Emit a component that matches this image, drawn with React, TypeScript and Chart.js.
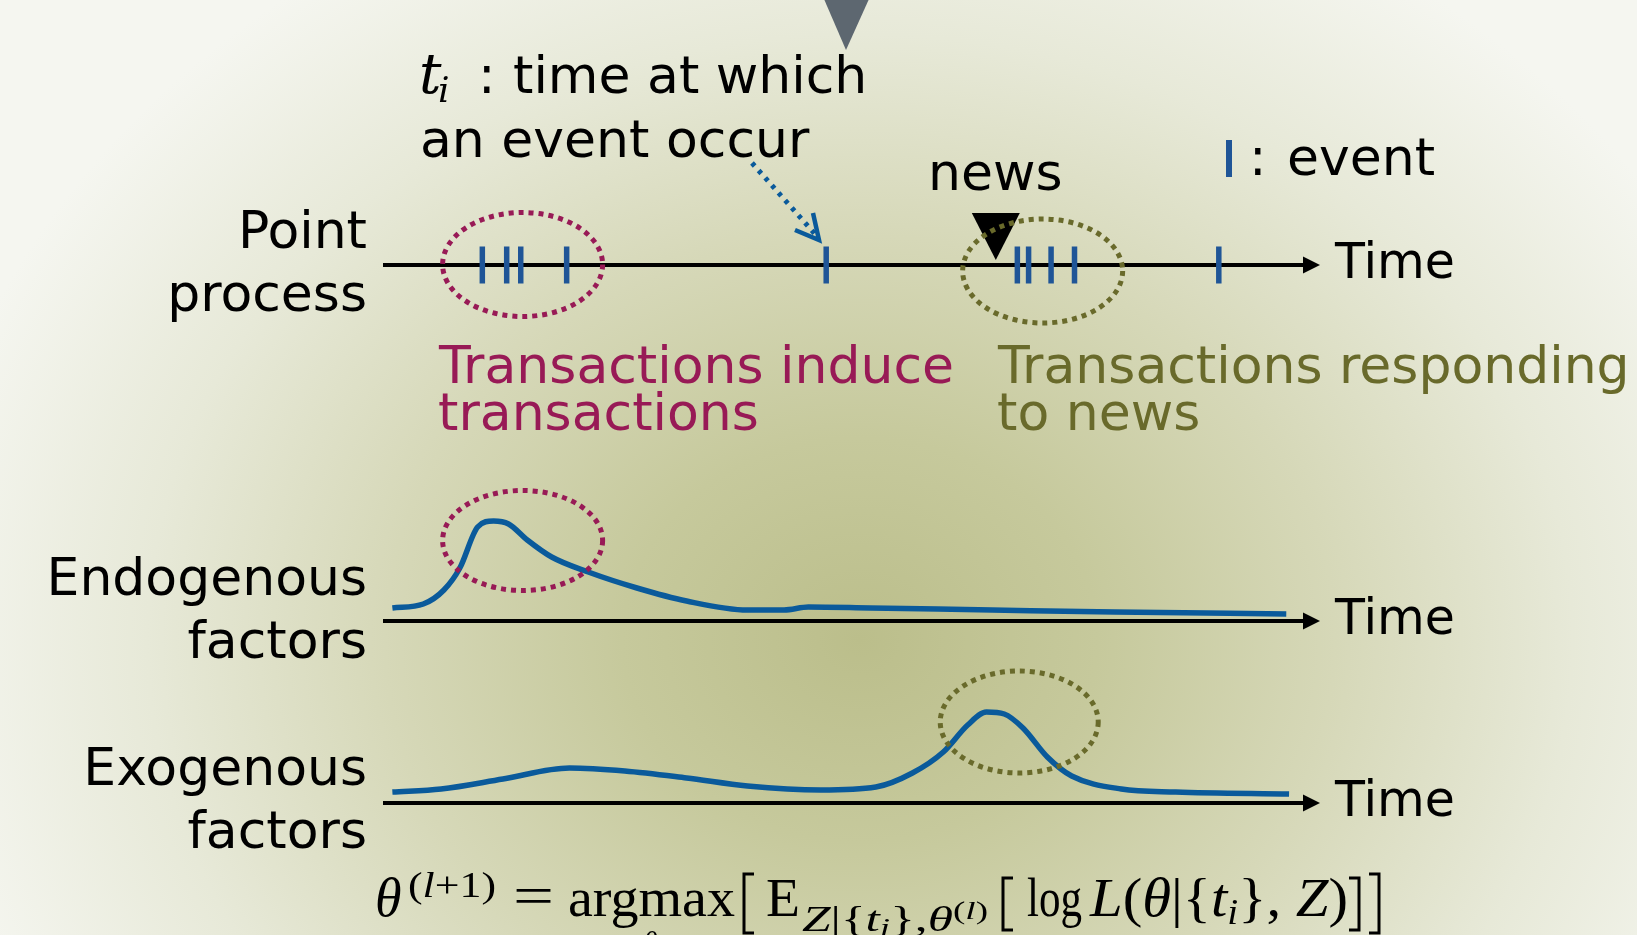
import React, { useEffect, useRef } from 'react';
import { Chart, registerables } from 'chart.js';

Chart.register(...registerables);

const CANVAS_W = 1637;
const CANVAS_H = 935;

// Time in axis units: 0 = left end of each time axis, 100 = arrow tip
const eventTimes = [10.6, 13.2, 14.7, 19.6, 47.3, 67.7, 68.9, 71.3, 73.8, 89.2];
const newsTime = 65.4;

const endoTimes = [1.0, 4.3, 6.5, 8.2, 10.1, 11.8, 13.4, 15.4, 18.0, 21.9, 27.1, 32.4, 38.9, 42.8, 45.4, 52.0, 65.0, 78.1, 96.4];
const endoValues = [1.3, 1.7, 3.1, 5.3, 9.4, 10.0, 9.7, 8.1, 6.4, 4.9, 3.3, 2.0, 1.1, 1.1, 1.4, 1.3, 1.1, 0.9, 0.7];

const exoTimes = [1.0, 6.2, 12.8, 19.9, 25.8, 32.4, 38.9, 46.7, 52.6, 56.5, 59.8, 62.4, 64.4, 66.3, 68.3, 70.9, 73.5, 78.8, 84.6, 96.7];
const exoValues = [1.1, 1.4, 2.4, 3.5, 3.2, 2.5, 1.7, 1.3, 1.6, 3.0, 5.1, 7.8, 9.1, 8.9, 7.5, 4.6, 2.7, 1.4, 1.1, 0.9];

const rowLabels = [['Point', 'process'], ['Endogenous', 'factors'], ['Exogenous', 'factors']];
const axisTitle = 'Time';
const endoNote = ['Transactions induce', 'transactions'];
const exoNote = ['Transactions responding', 'to news'];
const eventNote = ['time at which', 'an event occur'];
const newsLabel = 'news';
const legendLabel = 'event';

// layout (pixels)
const X_LEFT_PX = 383;
const X_TIP_PX = 1320;
const PX_PER_UNIT = (X_TIP_PX - X_LEFT_PX) / 100;
const ROW_AXIS_PX = [265, 621, 803];
const Y_PX_PER_UNIT = 10;

const BLUE = '#0a5a9b';
const TICK_BLUE = '#1f5597';
const MAROON = '#981a56';
const OLIVE = '#696a2b';
const SANS = '"DejaVu Sans", Verdana, sans-serif';
const SERIF = '"Liberation Serif", "Times New Roman", serif';

const yScale = (axisPx: number) => ({
  type: 'linear' as const,
  display: false,
  min: (axisPx - CANVAS_H) / Y_PX_PER_UNIT,
  max: axisPx / Y_PX_PER_UNIT,
});

type Part = { t: string; f: string; dy?: number };

function rich(ctx: CanvasRenderingContext2D, parts: Part[], x: number, y: number, targetW?: number) {
  let total = 0;
  const widths = parts.map((p) => {
    ctx.font = p.f;
    const w = ctx.measureText(p.t).width;
    total += w;
    return w;
  });
  const s = targetW ? targetW / total : 1;
  ctx.save();
  ctx.textAlign = 'left';
  ctx.textBaseline = 'alphabetic';
  ctx.translate(x, y);
  ctx.scale(s, 1);
  let cx = 0;
  parts.forEach((p, i) => {
    ctx.font = p.f;
    ctx.fillText(p.t, cx, p.dy || 0);
    cx += widths[i];
  });
  ctx.restore();
}

function txt(ctx: CanvasRenderingContext2D, s: string, x: number, y: number, font: string, color: string, align: CanvasTextAlign = 'left') {
  ctx.font = font;
  ctx.fillStyle = color;
  ctx.textAlign = align;
  ctx.textBaseline = 'alphabetic';
  ctx.fillText(s, x, y);
}

function bracket(ctx: CanvasRenderingContext2D, x: number, top: number, bottom: number, right: boolean) {
  const w = right ? -10 : 10;
  ctx.beginPath();
  ctx.moveTo(x + w, top);
  ctx.lineTo(x, top);
  ctx.lineTo(x, bottom);
  ctx.lineTo(x + w, bottom);
  ctx.stroke();
}

function dottedEllipse(ctx: CanvasRenderingContext2D, cx: number, cy: number, rx: number, ry: number, color: string) {
  ctx.save();
  ctx.strokeStyle = color;
  ctx.lineWidth = 5;
  ctx.setLineDash([5, 5]);
  ctx.beginPath();
  ctx.ellipse(cx, cy, rx, ry, 0, 0, Math.PI * 2);
  ctx.stroke();
  ctx.restore();
}

const diagramPlugin = {
  id: 'diagram',
  beforeDraw(chart: any) {
    const ctx: CanvasRenderingContext2D = chart.ctx;
    ctx.save();
    const cx = 860, cy = 640, ky = 0.85, R = 950;
    ctx.translate(cx, cy);
    ctx.scale(1, ky);
    const g = ctx.createRadialGradient(0, 0, 0, 0, 0, R);
    g.addColorStop(0, '#bbbe8b');
    g.addColorStop(0.25, '#c6c99c');
    g.addColorStop(0.5, '#d6d8b8');
    g.addColorStop(0.75, '#e7e9d8');
    g.addColorStop(1, '#f5f6f0');
    ctx.fillStyle = g;
    ctx.fillRect(-cx, -cy / ky, CANVAS_W, CANVAS_H / ky);
    ctx.restore();
  },
  beforeDatasetsDraw(chart: any) {
    const ctx: CanvasRenderingContext2D = chart.ctx;
    const xs = chart.scales.x;
    const x0 = xs.getPixelForValue(0);
    const xt = xs.getPixelForValue(100);
    ['yPP', 'yEndo', 'yExo'].forEach((id) => {
      const y = chart.scales[id].getPixelForValue(0);
      ctx.save();
      ctx.strokeStyle = '#000';
      ctx.fillStyle = '#000';
      ctx.lineWidth = 4;
      ctx.beginPath();
      ctx.moveTo(x0, y);
      ctx.lineTo(xt - 14, y);
      ctx.stroke();
      ctx.beginPath();
      ctx.moveTo(xt, y);
      ctx.lineTo(xt - 17, y - 8.5);
      ctx.lineTo(xt - 17, y + 8.5);
      ctx.closePath();
      ctx.fill();
      ctx.restore();
      txt(ctx, axisTitle, 1335, y + 13, `49px ${SANS}`, '#000');
    });
  },
  afterDatasetsDraw(chart: any) {
    const ctx: CanvasRenderingContext2D = chart.ctx;
    const xs = chart.scales.x;
    const yPP = chart.scales.yPP;
    const yEndo = chart.scales.yEndo;
    const yExo = chart.scales.yExo;

    // row labels
    const labelFont = `52px ${SANS}`;
    const rowBase = [[248, 311], [595, 658], [785, 848]];
    rowLabels.forEach((lines, i) => {
      lines.forEach((l, j) => txt(ctx, l, 367, rowBase[i][j], labelFont, '#000', 'right'));
    });

    // news marker
    const nx = xs.getPixelForValue(newsTime);
    ctx.save();
    ctx.fillStyle = '#000';
    ctx.beginPath();
    ctx.moveTo(nx - 24, 213);
    ctx.lineTo(nx + 24, 213);
    ctx.lineTo(nx, 260);
    ctx.closePath();
    ctx.fill();
    ctx.restore();
    txt(ctx, newsLabel, 928, 190, labelFont, '#000');

    // ellipses
    dottedEllipse(ctx, xs.getPixelForValue(14.9), yPP.getPixelForValue(0.05), 80, 52, MAROON);
    dottedEllipse(ctx, xs.getPixelForValue(70.4), yPP.getPixelForValue(-0.6), 80, 52, OLIVE);
    dottedEllipse(ctx, xs.getPixelForValue(14.9), yEndo.getPixelForValue(8.05), 80, 50, MAROON);
    dottedEllipse(ctx, xs.getPixelForValue(67.9), yExo.getPixelForValue(8.1), 79, 51, OLIVE);

    // notes
    txt(ctx, endoNote[0], 439, 383, labelFont, MAROON);
    txt(ctx, endoNote[1], 438, 430, labelFont, MAROON);
    txt(ctx, exoNote[0], 998, 383, labelFont, OLIVE);
    txt(ctx, exoNote[1], 997, 430, labelFont, OLIVE);

    // t_i : time at which / an event occur
    ctx.fillStyle = '#000';
    rich(ctx, [{ t: 't', f: `italic 56px "DejaVu Serif", serif` }], 419, 93);
    rich(ctx, [{ t: 'i', f: `italic 36px "DejaVu Serif", serif` }], 438, 102);
    txt(ctx, ':', 478, 93, labelFont, '#000');
    txt(ctx, eventNote[0], 513, 93, labelFont, '#000');
    txt(ctx, eventNote[1], 420, 157, labelFont, '#000');

    // legend: | : event
    ctx.fillStyle = TICK_BLUE;
    ctx.fillRect(1226, 140, 6, 37);
    txt(ctx, ':', 1249, 175, labelFont, '#000');
    txt(ctx, legendLabel, 1287, 175, labelFont, '#000');

    // dotted pointer arrow
    ctx.save();
    ctx.strokeStyle = BLUE;
    ctx.lineWidth = 5;
    ctx.setLineDash([4, 6]);
    ctx.beginPath();
    ctx.moveTo(752, 163);
    ctx.lineTo(815, 234);
    ctx.stroke();
    ctx.setLineDash([]);
    ctx.lineWidth = 4.5;
    ctx.lineJoin = 'miter';
    ctx.beginPath();
    ctx.moveTo(813, 213);
    ctx.lineTo(819, 240);
    ctx.lineTo(795, 230);
    ctx.stroke();
    ctx.restore();

    // top grey pointer
    ctx.save();
    ctx.fillStyle = '#5d6770';
    ctx.beginPath();
    ctx.moveTo(824, -1);
    ctx.lineTo(869, -1);
    ctx.lineTo(846, 50);
    ctx.closePath();
    ctx.fill();
    ctx.restore();

    // formula
    ctx.fillStyle = '#000';
    ctx.strokeStyle = '#000';
    ctx.lineWidth = 3;
    const R54 = `54px ${SERIF}`;
    const I54 = `italic 54px ${SERIF}`;
    const R36 = `36px ${SERIF}`;
    const I36 = `italic 36px ${SERIF}`;
    const R26 = `26px ${SERIF}`;
    const I26 = `italic 26px ${SERIF}`;
    rich(ctx, [{ t: 'θ', f: I54 }], 375, 916);
    rich(ctx, [{ t: '(', f: R36 }, { t: 'l', f: I36 }, { t: '+1)', f: R36 }], 408, 897, 88);
    rich(ctx, [{ t: '=', f: R54 }], 513, 914, 41);
    rich(ctx, [{ t: 'argmax', f: R54 }], 568, 916, 167);
    rich(ctx, [{ t: 'θ', f: `italic 30px ${SERIF}` }], 643, 952);
    bracket(ctx, 744, 874, 933, false);
    rich(ctx, [{ t: 'E', f: R54 }], 766, 916, 34);
    rich(
      ctx,
      [
        { t: 'Z', f: I36 },
        { t: '|{', f: R36 },
        { t: 't', f: I36 },
        { t: 'i', f: I26, dy: 5 },
        { t: '},', f: R36 },
        { t: 'θ', f: I36 },
        { t: '(', f: R26, dy: -12 },
        { t: 'l', f: I26, dy: -12 },
        { t: ')', f: R26, dy: -12 },
      ],
      802,
      931,
      186
    );
    bracket(ctx, 1003, 878, 930, false);
    rich(ctx, [{ t: 'log', f: R54 }], 1027, 916, 55);
    rich(
      ctx,
      [
        { t: 'L', f: I54 },
        { t: '(', f: R54 },
        { t: 'θ', f: I54 },
        { t: '|{', f: R54 },
        { t: 't', f: I54 },
        { t: 'i', f: I36, dy: 8 },
        { t: '}, ', f: R54 },
        { t: 'Z', f: I54 },
        { t: ')', f: R54 },
      ],
      1090,
      916,
      258
    );
    bracket(ctx, 1359, 878, 930, true);
    bracket(ctx, 1379, 874, 933, true);
  },
};

export default function App() {
  const ref = useRef<HTMLCanvasElement>(null);
  useEffect(() => {
    document.body.style.margin = '0';
    const endoData = endoTimes.map((t, i) => ({ x: t, y: endoValues[i] }));
    const exoData = exoTimes.map((t, i) => ({ x: t, y: exoValues[i] }));
    const eventData = eventTimes.map((t) => ({ x: t, y: 0 }));
    const chart = new Chart(ref.current as HTMLCanvasElement, {
      type: 'scatter',
      data: {
        datasets: [
          {
            label: 'Endogenous factors',
            data: endoData,
            yAxisID: 'yEndo',
            showLine: true,
            borderColor: BLUE,
            borderWidth: 5.5,
            pointRadius: 0,
            cubicInterpolationMode: 'monotone',
            fill: false,
          },
          {
            label: 'Exogenous factors',
            data: exoData,
            yAxisID: 'yExo',
            showLine: true,
            borderColor: BLUE,
            borderWidth: 5.5,
            pointRadius: 0,
            cubicInterpolationMode: 'monotone',
            fill: false,
          },
          {
            label: 'event',
            data: eventData,
            yAxisID: 'yPP',
            showLine: false,
            pointStyle: 'line',
            rotation: 90,
            pointRadius: 18.5,
            pointBorderWidth: 5.5,
            pointBorderColor: TICK_BLUE,
            pointBackgroundColor: TICK_BLUE,
          } as any,
        ],
      },
      options: {
        animation: false,
        responsive: false,
        devicePixelRatio: 1,
        events: [],
        layout: { padding: 0, autoPadding: false },
        plugins: { legend: { display: false }, tooltip: { enabled: false } },
        scales: {
          x: {
            type: 'linear',
            display: false,
            min: -X_LEFT_PX / PX_PER_UNIT,
            max: (CANVAS_W - X_LEFT_PX) / PX_PER_UNIT,
          },
          yPP: yScale(ROW_AXIS_PX[0]),
          yEndo: yScale(ROW_AXIS_PX[1]),
          yExo: yScale(ROW_AXIS_PX[2]),
        },
      } as any,
      plugins: [diagramPlugin],
    });
    return () => chart.destroy();
  }, []);
  return (
    <div style={{ position: 'fixed', left: 0, top: 0, width: CANVAS_W, height: CANVAS_H }}>
      <canvas ref={ref} width={CANVAS_W} height={CANVAS_H} style={{ display: 'block', width: CANVAS_W, height: CANVAS_H }} />
    </div>
  );
}
